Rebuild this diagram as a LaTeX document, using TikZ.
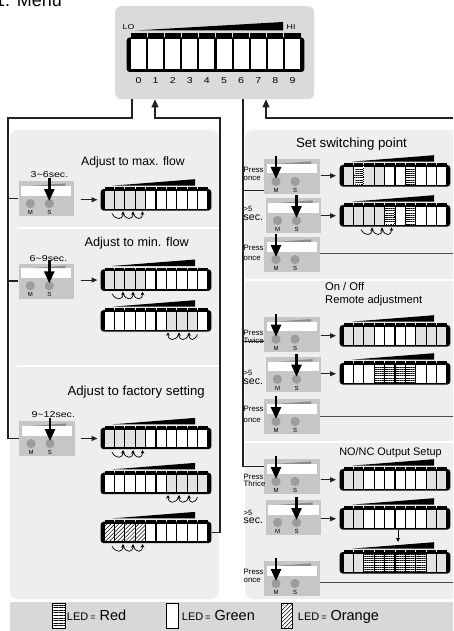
\documentclass[tikz,border=0pt]{standalone}
\usepackage{fontspec}
\setmainfont{Liberation Sans}
\newfontfamily\wfont[FakeStretch=1.25]{Liberation Sans}
\usetikzlibrary{arrows.meta,patterns.meta}
\definecolor{hdrgrey}{HTML}{DADADA}
\definecolor{panelgrey}{HTML}{EEEEEE}
\definecolor{pbgrey}{HTML}{C6C6C6}
\definecolor{btngrey}{HTML}{9C9C9C}
\definecolor{ledgrey}{HTML}{E2E2E2}
\definecolor{legendgrey}{HTML}{D8D8D8}
\definecolor{wedgegrey}{HTML}{8C8C8C}
\definecolor{linegrey}{HTML}{222222}
\tikzset{
  cellw/.style={fill=white},
  cellg/.style={fill=ledgrey},
  cellr/.style={fill=white,postaction={pattern={Lines[angle=0,distance=2.2pt,line width=0.7pt]}}},
  celld/.style={cellr,postaction={draw=white,line width=0.9pt,dash pattern=on 1pt off 1.2pt}},
  cello/.style={fill=white,postaction={pattern={Lines[angle=45,distance=2.8pt,line width=0.5pt]}}},
  conn/.style={draw=linegrey,line width=1.2pt},
  hdarrow/.style={-{Triangle[width=7pt,length=8pt]}},
  sarrow/.style={draw=linegrey,line width=1.1pt,-{Triangle[width=5pt,length=6pt]}},
  bigarrow/.style={draw=black,line width=2.5pt,-{Triangle[width=10pt,length=12pt]}},
  wave/.style={draw=black,line width=0.7pt,-{Stealth[length=3.6pt,width=3.6pt]}},
  pbox/.style={fill=pbgrey,minimum width=55.5pt,minimum height=35pt,inner sep=0pt,anchor=north west},
  lbl/.style={font=\fontsize{6}{6}\selectfont,inner sep=0pt},
  sidetxt/.style={anchor=base west,inner sep=0pt,font=\fontsize{7.8}{8}\selectfont},
  sectxt/.style={anchor=base west,inner sep=0pt,font=\fontsize{10.5}{11}\selectfont},
  gttxt/.style={anchor=base west,inner sep=0pt,font=\fontsize{7.5}{8}\selectfont},
  title/.style={anchor=base,inner sep=0pt},
  timetxt/.style={anchor=base,inner sep=0pt,font=\wfont\fontsize{8.5}{9}\selectfont},
}
% #1 name, #2 first cell x, #3 top, #4 cell width, #5 height, #6 cap height, #7 cells
\newcommand{\ledbar}[7]{%
  \fill[black,rounded corners=3pt] ({#2-3.3},{#3}) rectangle ({#2+10*#4+3.3},{#3+#5});
  \foreach \cc [count=\i from 0] in {#7}{%
    \path[cell\cc] ({#2+\i*#4+0.06*#4},{#3+1.8}) rectangle ({#2+\i*#4+0.94*#4},{#3+0.915*#5});
  }
  \foreach \i in {0,...,9}{%
    \fill ({#2+\i*#4+0.5},{#3-#6}) rectangle ({#2+\i*#4+#4-0.5},{#3+1.6});
  }
  \node[inner sep=0pt,minimum width={10*#4+6.6},minimum height={#5}] (#1) at ({#2+5*#4},{#3+#5/2}) {};
}
\newcommand{\ledwedge}[4]{\fill ({#1},{#3}) -- ({#2},{#3}) -- ({#2},{#3-#4}) -- cycle;}
\newcommand{\smallbar}[4]{%
  \ledwedge{#2+8}{#2+91}{#3-3.3}{6.5}%
  \ledbar{#1}{#2}{#3}{10.4}{21.5}{1.6}{#4}}
% #1 y of bar bottom, #2..#5 points
\newcommand{\waves}[5]{%
  \draw[wave] ({#2},{#1+3}) .. controls ({#2+0.35*(#3-#2)},{#1+10}) and ({#3},{#1+9.5}) .. ({#3},{#1+0.8});
  \draw[wave] ({#3},{#1+3}) .. controls ({#3+0.35*(#4-#3)},{#1+10}) and ({#4},{#1+9.5}) .. ({#4},{#1+0.8});
  \draw[wave] ({#4},{#1+3}) .. controls ({#4+0.35*(#5-#4)},{#1+10}) and ({#5},{#1+9.5}) .. ({#5},{#1+0.8});
}
% #1 name, #2 x, #3 y, #4 arrow x offset (12 = M, 31 = S)
\newcommand{\pressbox}[4]{%
  \node[pbox] (#1) at (#2,#3) {};
  \fill[white] ({#2+2.5},{#3+5}) rectangle ({#2+53},{#3+14.5});
  \fill[wedgegrey] ({#2+12},{#3+4.9}) -- ({#2+47},{#3+4.9}) -- ({#2+47},{#3+2.4}) -- cycle;
  \fill[btngrey] ({#2+12},{#3+22.5}) circle (4.6);
  \fill[btngrey] ({#2+31},{#3+22.5}) circle (4.6);
  \node[lbl] (#1-m) at ({#2+12},{#3+31.5}) {M};
  \node[lbl] (#1-s) at ({#2+31},{#3+31.5}) {S};
  \draw[bigarrow] ({#2+#4},{#3-3}) -- ({#2+#4},{#3+20});
}
\begin{document}
\begin{tikzpicture}[x=1pt,y=-1pt]
\useasboundingbox (0,0) rectangle (453,631);
\clip (0,0) rectangle (453,631);
\fill[white] (0,0) rectangle (453,631);

\node[anchor=base west,inner sep=0pt,font=\fontsize{18}{18}\selectfont] (menu) at (-5,6.5) {1. Menu};

% header
\node[fill=hdrgrey,rounded corners=6pt,minimum width=199pt,minimum height=93pt,inner sep=0pt,anchor=north west] (header) at (115,6) {};
\ledwedge{135}{283}{30.5}{8.5}
\node[anchor=base west,inner sep=0pt,font=\wfont\fontsize{7}{7}\selectfont] (lo) at (122.5,29.3) {LO};
\node[anchor=base west,inner sep=0pt,font=\wfont\fontsize{7}{7}\selectfont] (hi) at (286.5,29.3) {HI};
\ledbar{barH}{130}{37.5}{17.1}{34.5}{4.2}{w,w,w,w,w,w,w,w,w,w}
\foreach \n in {0,...,9}{\node[anchor=base,inner sep=0pt,font=\wfont\fontsize{8.5}{9}\selectfont] (num\n) at ({130+17.1*(\n+0.5)},84) {\n};}

% panels
\fill[panelgrey,rounded corners=8pt] (10,130) rectangle (219,599);
\fill[panelgrey,rounded corners=8pt] (245,130) rectangle (470,599);
\draw[white,line width=1.5pt] (17,228) -- (219,228);
\draw[white,line width=1.5pt] (17,366) -- (219,366);
\draw[white,line width=1.5pt] (245,280) -- (453,280);
\draw[white,line width=1.5pt] (245,442) -- (453,442);

% legend band
\fill[legendgrey] (10,602) rectangle (453,631);

% ---------- left panel ----------
\node[title,font=\fontsize{12.2}{13}\selectfont] (tMax) at (133,166) {Adjust to max. flow};
\node[title,font=\fontsize{12.7}{13}\selectfont] (tMin) at (136.7,246) {Adjust to min. flow};
\node[title,font=\fontsize{13.2}{14}\selectfont] (tFac) at (136.2,395) {Adjust to factory setting};

\node[timetxt] (t36) at (49.5,177.7) {3\textasciitilde 6sec.};
\node[timetxt] (t69) at (48.5,261) {6\textasciitilde 9sec.};
\node[timetxt] (t912) at (53.3,417.7) {9\textasciitilde 12sec.};

\pressbox{bL1}{18.3}{181}{31}
\pressbox{bL2}{18.3}{263.3}{31}
\pressbox{bL3}{19}{421}{31}

\smallbar{barL1}{104}{189}{g,g,g,g,w,w,w,w,w,w}
\waves{210.5}{112}{123}{133}{142.5}
\smallbar{barL2a}{104}{269.3}{g,g,g,g,w,w,w,w,w,w}
\waves{290.8}{112}{123}{133}{142.5}
\smallbar{barL2b}{104}{310}{w,w,w,w,w,w,g,g,g,w}
\waves{331.5}{197.5}{189}{179}{168}
\smallbar{barL3a}{104}{427.7}{g,g,g,g,w,w,w,w,w,w}
\waves{449.2}{112}{123}{133}{142.5}
\smallbar{barL3b}{104}{472.7}{w,w,w,w,w,w,g,g,g,g}
\waves{494.2}{197.5}{189}{179}{168}
\smallbar{barL3c}{104}{521.7}{o,o,o,o,w,w,w,w,w,w}
\waves{543.2}{112}{123}{133}{142.5}

\draw[sarrow] ([xshift=-20pt]barL1.west) -- ([xshift=-3pt]barL1.west);
\draw[sarrow] ([xshift=-20pt]barL2a.west) -- ([xshift=-3pt]barL2a.west);
\draw[sarrow] ([xshift=-20pt]barL3a.west) -- ([xshift=-3pt]barL3a.west);

% ---------- right panel ----------
\node[title,font=\fontsize{13.3}{14}\selectfont] (tSet) at (351.5,147.3) {Set switching point};
\node[anchor=north west,inner sep=0pt,align=left,font=\fontsize{11.2}{13.6}\selectfont] (tOn) at (325,282) {On / Off\\Remote adjustment};
\node[title,font=\fontsize{10.9}{12}\selectfont] (tNo) at (390.5,455.7) {NO/NC Output Setup};

\pressbox{bA1}{264}{159}{12}
\pressbox{bA2}{265.5}{198}{31}
\pressbox{bA3}{264}{237}{12}
\pressbox{bB1}{264}{316.7}{12}
\pressbox{bB2}{265.5}{356.7}{31}
\pressbox{bB3}{264}{399}{12}
\pressbox{bC1}{264}{459}{12}
\pressbox{bC2}{265.5}{500}{31}
\pressbox{bC3}{264}{561}{12}

\node[sidetxt] (sA1a) at (243.5,172.3) {Press};
\node[sidetxt] (sA1b) at (243.5,181) {once};
\node[gttxt] (sA2a) at (243.5,211.3) {>5};
\node[sectxt] (sA2b) at (243.5,220.5) {sec.};
\node[sidetxt] (sA3a) at (243.5,250.7) {Press};
\node[sidetxt] (sA3b) at (243.5,260) {once};
\node[sidetxt] (sB1a) at (243.5,335.7) {Press};
\node[sidetxt] (sB1b) at (243.5,343) {Twice};
\node[gttxt] (sB2a) at (243.5,375.7) {>5};
\node[sectxt] (sB2b) at (243.5,384.8) {sec.};
\node[sidetxt] (sB3a) at (243.5,411) {Press};
\node[sidetxt] (sB3b) at (243.5,422) {once};
\node[sidetxt] (sC1a) at (243.5,479) {Press};
\node[sidetxt] (sC1b) at (243.5,486.7) {Thrice};
\node[gttxt] (sC2a) at (243.5,515) {>5};
\node[sectxt] (sC2b) at (243.5,523.8) {sec.};
\node[sidetxt] (sC3a) at (243.5,574) {Press};
\node[sidetxt] (sC3b) at (243.5,582.7) {once};

\smallbar{barA1}{343}{165}{g,d,g,g,w,w,r,w,w,w}
\smallbar{barA2}{343}{205}{g,g,g,g,d,w,r,w,w,w}
\waves{226.5}{361}{372}{382}{391.5}
\smallbar{barB1}{343}{325}{g,g,g,w,w,w,w,g,g,g}
\smallbar{barB2}{343}{363}{w,w,w,r,r,r,r,w,w,w}
\smallbar{barC1}{343}{469}{g,g,w,w,w,w,w,w,g,g}
\smallbar{barC2}{343}{508}{g,g,w,w,w,w,w,w,g,g}
\smallbar{barC3}{343}{552}{g,g,r,r,r,r,r,r,g,g}

\foreach \b in {barA1,barA2,barB1,barB2,barC1,barC2}{%
  \draw[sarrow] ([xshift=-19pt]\b.west) -- ([xshift=-3.5pt]\b.west);}
\coordinate (dnE) at (398,542);
\draw[line width=0.9pt,-{Triangle[width=3.5pt,length=4pt]}] (barC2.south -| dnE) -- (dnE);

% ---------- connectors ----------
\coordinate (lT) at (132,99);
\coordinate (lC) at (8,118);
\draw[conn] (lT) |- (lC) |- (bL3.west);
\draw[conn] (bL1.west -| lC) -- (bL1.west);
\draw[conn] (bL2.west -| lC) -- (bL2.west);

\coordinate (rC) at (220,118);
\coordinate (aL) at (155,118);
\draw[conn,hdarrow] (barL3c.east) -| (rC) -- (aL) -- (aL |- header.south);

\coordinate (mT) at (243,99);
\coordinate (sA) at ([yshift=-13.5pt]bA1.west);
\coordinate (sB) at ([yshift=-6.8pt]bB1.west);
\coordinate (sC) at ([yshift=10.5pt]bC1.west);
\draw[conn] (mT) -- (sC -| mT) -- (sC);
\draw[conn] (sA -| mT) -- (sA);
\draw[conn] (sB -| mT) -- (sB);

\coordinate (rR) at (453,118);
\coordinate (aR) at (266,118);
\draw[conn,hdarrow] (rR) -- (aR) -- (aR |- header.south);

\coordinate (eX) at (453,0);
\coordinate (oA) at ([yshift=1.5pt]bA3.east);
\coordinate (oB) at (bB3.east);
\coordinate (oC) at ([yshift=-3.5pt]bC3.east);
\draw[draw=black!70,line width=1.2pt] (oA) -- (oA -| eX);
\draw[draw=black!70,line width=1.2pt] (oB) -- (oB -| eX);
\draw[draw=black!70,line width=1.2pt] (oC) -- (oC -| eX);

% ---------- legend ----------
\draw[line width=0.6pt,fill=white,postaction={pattern={Lines[angle=0,distance=2.6pt,line width=0.6pt]}}] (52,603.5) rectangle (65,628.5);
\draw[line width=0.6pt,fill=white] (166,603.5) rectangle (178,628.5);
\draw[line width=0.6pt,fill=white,postaction={pattern={Lines[angle=45,distance=2.8pt,line width=0.5pt]}}] (281,603.5) rectangle (292,628.5);
\node[anchor=base west,inner sep=0pt] (lgR) at (66.7,620.7) {{\fontsize{11}{11}\selectfont LED}\hspace{2pt}{\fontsize{9}{9}\selectfont =}\hspace{4pt}{\fontsize{14.5}{15}\selectfont Red}};
\node[anchor=base west,inner sep=0pt] (lgG) at (181.7,620.7) {{\fontsize{11}{11}\selectfont LED}\hspace{2pt}{\fontsize{9}{9}\selectfont =}\hspace{4pt}{\fontsize{14.5}{15}\selectfont Green}};
\node[anchor=base west,inner sep=0pt] (lgO) at (297.7,620.7) {{\fontsize{11}{11}\selectfont LED}\hspace{2pt}{\fontsize{9}{9}\selectfont =}\hspace{4pt}{\fontsize{14.5}{15}\selectfont Orange}};
\end{tikzpicture}
\end{document}
